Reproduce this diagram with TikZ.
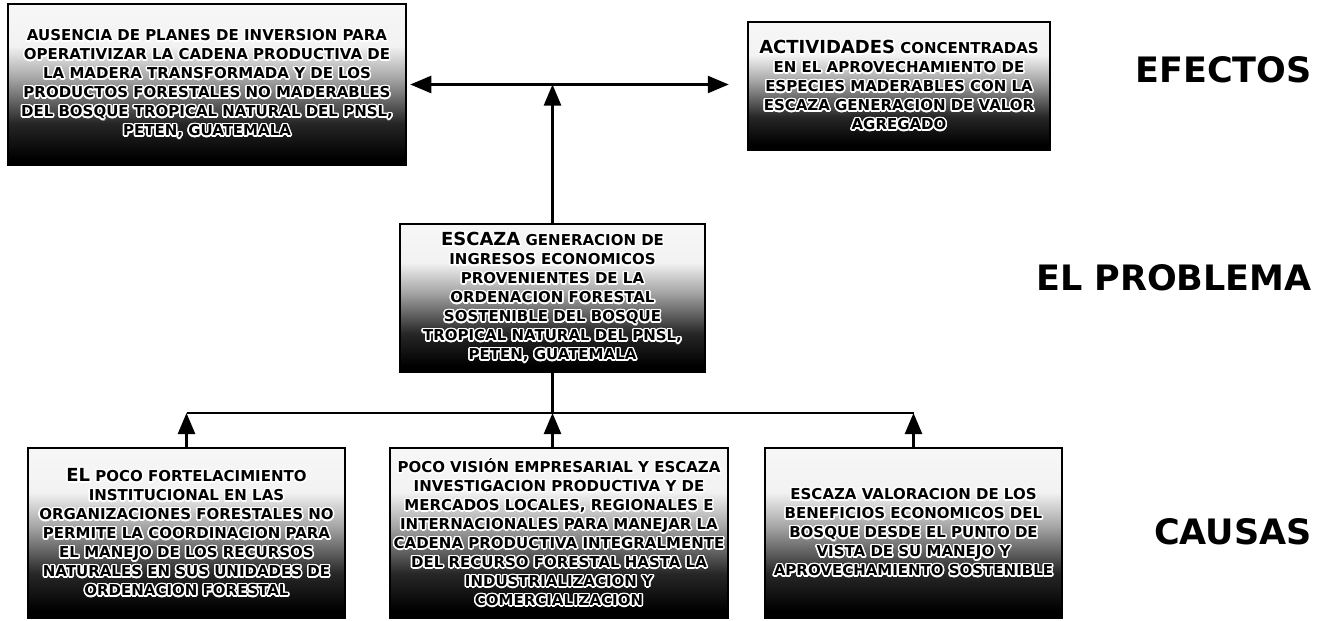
\documentclass[tikz,border=0pt]{standalone}
\usepackage{fontspec}
\setmainfont{DejaVu Sans}
\usepackage{contour}
\contourlength{1.5pt}
\usetikzlibrary{arrows.meta}
\pgfdeclareverticalshading{fondo}{100bp}{color(0bp)=(black); color(27bp)=(black); color(38bp)=(black!85); color(52bp)=(black!35); color(62bp)=(black!5); color(100bp)=(white)}
\newcommand{\wl}[1]{\contour{white}{#1}}
\newcommand{\grande}[1]{{\fontsize{18}{19}\selectfont #1}}

\begin{document}
\begin{tikzpicture}[x=1pt,y=-1pt,
  caja/.style={draw,line width=2.5pt,shading=fondo,inner sep=0pt,align=center,font=\fontsize{15}{19}\selectfont\bfseries},
  rotulo/.style={anchor=east,inner sep=0pt,font=\fontsize{35}{40}\selectfont\bfseries},
  linea/.style={line width=2.5pt},
  flecha/.style={linea,-{Triangle[length=21pt,width=17pt]}},
  flechas/.style={linea,{Triangle[length=21pt,width=17pt]}-{Triangle[length=21pt,width=17pt]}}]
	\useasboundingbox (0,0) rectangle (1339,621);
	\node[caja,minimum width=398pt,minimum height=161pt] (efA) at (207,84.5) {\wl{AUSENCIA DE PLANES DE INVERSION PARA}\\\wl{OPERATIVIZAR LA CADENA PRODUCTIVA DE}\\\wl{LA MADERA TRANSFORMADA Y DE LOS}\\\wl{PRODUCTOS FORESTALES NO MADERABLES}\\\wl{DEL BOSQUE TROPICAL NATURAL DEL PNSL,}\\\wl{PETEN, GUATEMALA}};
	\node[caja,minimum width=302pt,minimum height=128pt] (efB) at (899,86) {\wl{\grande{ACTIVIDADES} CONCENTRADAS}\\\wl{EN EL APROVECHAMIENTO DE}\\\wl{ESPECIES MADERABLES CON LA}\\\wl{ESCAZA GENERACION DE VALOR}\\\wl{AGREGADO}};
	\node[caja,minimum width=305pt,minimum height=148pt] (probl) at (552.5,298) {\wl{\grande{ESCAZA} GENERACION DE}\\\wl{INGRESOS ECONOMICOS}\\\wl{PROVENIENTES DE LA}\\\wl{ORDENACION FORESTAL}\\\wl{SOSTENIBLE DEL BOSQUE}\\\wl{TROPICAL NATURAL DEL PNSL,}\\\wl{PETEN, GUATEMALA}};
	\node[caja,minimum width=317pt,minimum height=170pt] (cauA) at (186.5,533) {\wl{\grande{EL} POCO FORTELACIMIENTO}\\\wl{INSTITUCIONAL EN LAS}\\\wl{ORGANIZACIONES FORESTALES NO}\\\wl{PERMITE LA COORDINACION PARA}\\\wl{EL MANEJO DE LOS RECURSOS}\\\wl{NATURALES EN SUS UNIDADES DE}\\\wl{ORDENACION FORESTAL}};
	\node[caja,minimum width=338pt,minimum height=170pt] (cauB) at (559,533) {\wl{POCO VISIÓN EMPRESARIAL Y ESCAZA}\\\wl{INVESTIGACION PRODUCTIVA Y DE}\\\wl{MERCADOS LOCALES, REGIONALES E}\\\wl{INTERNACIONALES PARA MANEJAR LA}\\\wl{CADENA PRODUCTIVA INTEGRALMENTE}\\\wl{DEL RECURSO FORESTAL HASTA LA}\\\wl{INDUSTRIALIZACION Y}\\\wl{COMERCIALIZACION}};
	\node[caja,minimum width=297pt,minimum height=170pt] (cauC) at (913.5,533) {\wl{ESCAZA VALORACION DE LOS}\\\wl{BENEFICIOS ECONOMICOS DEL}\\\wl{BOSQUE DESDE EL PUNTO DE}\\\wl{VISTA DE SU MANEJO Y}\\\wl{APROVECHAMIENTO SOSTENIBLE}};
	\node[rotulo] (lblEf) at (1312,70) {EFECTOS};
	\node[rotulo] (lblPr) at (1312,278) {EL PROBLEMA};
	\node[rotulo] (lblCa) at (1312,532) {CAUSAS};
	\coordinate (bus) at (552.5,413);
	\draw[flechas,shorten <=3pt,shorten >=18pt] (efA.east) -- (efA.east -| efB.west);
	\draw[flecha] (probl.north) -- (probl.north |- efA.east);
	\draw[linea] (probl.south) -- (bus);
	\draw[linea] (cauA.north |- bus) -- (cauC.north |- bus);
	\draw[flecha] (cauA.north) -- (cauA.north |- bus);
	\draw[flecha] (bus |- cauB.north) -- (bus);
	\draw[flecha] (cauC.north) -- (cauC.north |- bus);
\end{tikzpicture}
\end{document}
